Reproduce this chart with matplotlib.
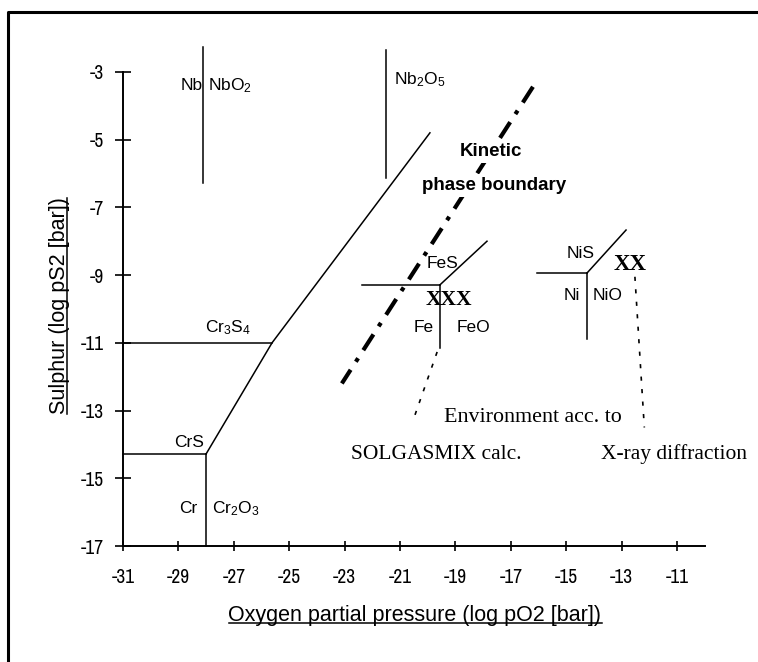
import matplotlib
matplotlib.use('Agg')
import matplotlib.pyplot as plt
from matplotlib.lines import Line2D
from matplotlib import font_manager

plt.rcParams['font.family'] = ['Liberation Sans', 'DejaVu Sans']
plt.rcParams['axes.unicode_minus'] = False
plt.rcParams['mathtext.fontset'] = 'custom'
plt.rcParams['mathtext.rm'] = 'Liberation Sans'
plt.rcParams['mathtext.it'] = 'Liberation Sans:italic'
plt.rcParams['mathtext.bf'] = 'Liberation Sans:bold'

# axis ticks
x_ticks = list(range(-31, -10, 2))
y_ticks = list(range(-17, -2, 2))

# Cr system boundaries
cr3s4_x, cr3s4_y = [-31, -25.62], [-11, -11]
crs_x, crs_y = [-31, -28.0], [-14.28, -14.28]
cr_oxide_x, cr_oxide_y = [-28.0, -28.0], [-17, -14.28]
cr_diag_x, cr_diag_y = [-28.0, -25.62, -19.92], [-14.28, -11, -4.8]

# Nb system boundaries
nb_x, nb_y = [-28.12, -28.12], [-2.26, -6.28]
nb2o5_x, nb2o5_y = [-21.5, -21.5], [-2.35, -6.13]

# Fe system boundaries
fe_h_x, fe_h_y = [-22.37, -19.56], [-9.29, -9.29]
fe_v_x, fe_v_y = [-19.56, -19.56], [-9.29, -11.15]
fe_d_x, fe_d_y = [-19.56, -17.86], [-9.29, -8.0]

# Ni system boundaries
ni_h_x, ni_h_y = [-16.05, -14.25], [-8.94, -8.94]
ni_v_x, ni_v_y = [-14.25, -14.25], [-8.94, -10.9]
ni_d_x, ni_d_y = [-14.25, -12.84], [-8.94, -7.67]

# kinetic boundary and pointer lines
kin_x, kin_y = [-16.2, -23.1], [-3.44, -12.2]
ptr1_x, ptr1_y = [-19.66, -20.46], [-11.27, -13.13]
ptr2_x, ptr2_y = [-12.52, -12.18], [-9.05, -13.5]

fig = plt.figure(figsize=(7.58, 6.62), dpi=100)
ax = fig.add_axes([0.1623, 0.1752, 0.7674, 0.7674])
ax.set_xlim(-31, -10)
ax.set_ylim(-17, -2)
ax.spines['top'].set_visible(False)
ax.spines['right'].set_visible(False)
ax.spines['left'].set_bounds(-17, -3)
ax.spines['left'].set_linewidth(1.4)
ax.spines['bottom'].set_linewidth(1.4)
ax.set_xticks(x_ticks)
ax.set_yticks(y_ticks)
ax.tick_params(axis='x', direction='inout', length=7, width=1.2, pad=12, labelsize=13)
ax.tick_params(axis='y', direction='inout', length=11, width=1.2, pad=8, labelsize=13)

narrow = [f.name for f in font_manager.fontManager.ttflist if 'Narrow' in f.name]
if narrow:
    for lab in ax.get_xticklabels() + ax.get_yticklabels():
        lab.set_family([narrow[0], 'Liberation Sans'])
        lab.set_fontsize(14)

lw = 1.1
for xs, ys in [(cr3s4_x, cr3s4_y), (crs_x, crs_y), (cr_oxide_x, cr_oxide_y),
               (cr_diag_x, cr_diag_y), (nb_x, nb_y), (nb2o5_x, nb2o5_y),
               (fe_h_x, fe_h_y), (fe_v_x, fe_v_y), (fe_d_x, fe_d_y),
               (ni_h_x, ni_h_y), (ni_v_x, ni_v_y), (ni_d_x, ni_d_y)]:
    ax.plot(xs, ys, color='black', lw=lw, clip_on=False)

ax.plot(kin_x, kin_y, color='black', lw=3.0, linestyle=(0, (4.5, 2.3, 1, 2.3)),
        solid_capstyle='butt', dash_capstyle='butt', zorder=2)
for xs, ys in [(ptr1_x, ptr1_y), (ptr2_x, ptr2_y)]:
    ax.plot(xs, ys, color='black', lw=1.2, linestyle=(0, (2.5, 5)))

fs = 12.5
kw = dict(fontsize=fs, va='baseline', zorder=3)
ax.text(-28.12, -3.53, 'Nb', ha='right', **kw)
ax.text(-27.95, -3.53, 'NbO$_2$', ha='left', **kw)
ax.text(-21.2, -3.38, 'Nb$_2$O$_5$', ha='left', **kw)
ax.text(-27.2, -10.68, 'Cr$_3$S$_4$', ha='center', **kw)
ax.text(-28.62, -14.07, 'CrS', ha='center', **kw)
ax.text(-28.3, -16.02, 'Cr', ha='right', **kw)
ax.text(-27.8, -16.02, 'Cr$_2$O$_3$', ha='left', **kw)
ax.text(-19.48, -8.79, 'FeS', ha='center', **kw)
ax.text(-19.8, -10.68, 'Fe', ha='right', **kw)
ax.text(-18.94, -10.68, 'FeO', ha='left', **kw)
ax.text(-14.47, -8.5, 'NiS', ha='center', **kw)
ax.text(-14.5, -9.73, 'Ni', ha='right', **kw)
ax.text(-14.03, -9.73, 'NiO', ha='left', **kw)

box = dict(facecolor='white', edgecolor='none', pad=2)
ax.text(-17.7, -5.48, 'Kinetic', ha='center', va='baseline', fontsize=13.5,
        fontweight='bold', bbox=box, zorder=4)
ax.text(-17.6, -6.48, 'phase boundary', ha='center', va='baseline', fontsize=13.5,
        fontweight='bold', bbox=box, zorder=4)

serif = dict(family=['Liberation Serif', 'DejaVu Serif'], va='baseline', ha='center')
ax.text(-19.25, -9.88, 'XXX', fontsize=15.5, fontweight='bold', zorder=4, **serif)
ax.text(-12.7, -8.85, 'XX', fontsize=16.5, fontweight='bold', zorder=4, **serif)
ax.text(-16.2, -13.34, 'Environment acc. to', fontsize=15.8, **serif)
ax.text(-19.7, -14.43, 'SOLGASMIX calc.', fontsize=15.5, **serif)
ax.text(-11.1, -14.43, 'X-ray diffraction', fontsize=15.5, clip_on=False, **serif)

W, H = 758, 662
xlab = fig.text(415 / W, 1 - 621 / H, 'Oxygen partial pressure (log pO2 [bar])',
                ha='center', va='baseline', fontsize=15.5)
ylab = fig.text(65 / W, 1 - 306 / H, 'Sulphur (log pS2 [bar])', rotation=90,
                rotation_mode='anchor', ha='center', va='baseline', fontsize=15.5)

fig.canvas.draw()
r = fig.canvas.get_renderer()
bb = xlab.get_window_extent(r)
fig.add_artist(Line2D([bb.x0 / W, bb.x1 / W], [(662 - 623) / H] * 2,
                      transform=fig.transFigure, color='black', lw=1.1))
bb = ylab.get_window_extent(r)
fig.add_artist(Line2D([67 / W] * 2, [bb.y0 / H, bb.y1 / H],
                      transform=fig.transFigure, color='black', lw=1.1))

# outer frame (left and top edges only)
fig.add_artist(Line2D([8 / W, 8 / W, 1], [0, 1 - 12 / H, 1 - 12 / H],
                      transform=fig.transFigure, color='black', lw=2.2))

fig.savefig('out.png', dpi=100)
